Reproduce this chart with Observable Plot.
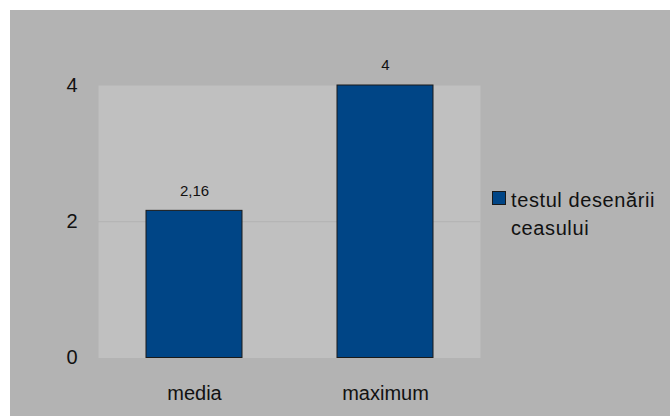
<!DOCTYPE html>
<html>
<head>
<meta charset="utf-8">
<script src="https://cdn.jsdelivr.net/npm/d3@7"></script>
<script src="https://cdn.jsdelivr.net/npm/@observablehq/plot@0.6"></script>
<style>
  html, body { margin: 0; padding: 0; background: #ffffff; }
  #wrap { position: relative; width: 670px; height: 416px; overflow: hidden; font-family: "Liberation Sans", Arial, sans-serif; }
  #panel { position: absolute; left: 10px; top: 10px; right: 0; bottom: 0; background: #b3b3b3; }
  #chart { position: absolute; left: 0; top: 0; }
  #legend { position: absolute; left: 492px; top: 186px; font-size: 20px; line-height: 28px; color: #111; letter-spacing: 0.6px; }
  #legend .sw { position: absolute; left: 0; top: 5px; width: 12px; height: 12px; background: #004586; border: 1px solid #1a1a1a; }
  #legend .lbl { margin-left: 19px; }
</style>
</head>
<body>
<div id="wrap">
  <div id="panel"></div>
  <div id="chart"></div>
  <div id="legend"></div>
</div>
<script>
// Clock-drawing test scores
const categories = ["media", "maximum"];
const values = [2.16, 4];
const seriesName = "testul desenării ceasului";
const yTicks = [0, 2, 4];

const data = categories.map((c, i) => ({category: c, value: values[i]}));
const fmt = v => String(v).replace(".", ",");

const chart = Plot.plot({
  width: 670,
  height: 416,
  marginLeft: 98,
  marginRight: 190,
  marginTop: 85,
  marginBottom: 58.5,
  style: {background: "transparent", fontFamily: "Liberation Sans, Arial, sans-serif", color: "#111"},
  x: {domain: categories, padding: 0.5, paddingOuter: 0.25, label: null},
  y: {domain: [0, 4], label: null},
  marks: [
    Plot.frame({fill: "#c0c0c0", stroke: null}),
    Plot.ruleY([2], {stroke: "#b2b2b2", strokeWidth: 1}),
    Plot.barY(data, {x: "category", y: "value", fill: "#004586", stroke: "#1a1a1a", strokeWidth: 1}),
    Plot.text(data, {x: "category", y: "value", text: d => fmt(d.value), dy: -20, lineAnchor: "middle", fontSize: 15, fill: "#111"}),
    Plot.axisY(yTicks, {tickSize: 0, tickPadding: 21, fontSize: 20, tickFormat: d => String(d)}),
    Plot.axisX({tickSize: 0, tickPadding: 28, fontSize: 20})
  ]
});
document.getElementById("chart").appendChild(chart);

// Legend: swatch plus wrapped series name
const [line1, line2] = ["testul desenării", "ceasului"];
const legend = document.getElementById("legend");
legend.innerHTML = `<div class="sw"></div><div class="lbl">${line1}<br>${line2}</div>`;
</script>
</body>
</html>
